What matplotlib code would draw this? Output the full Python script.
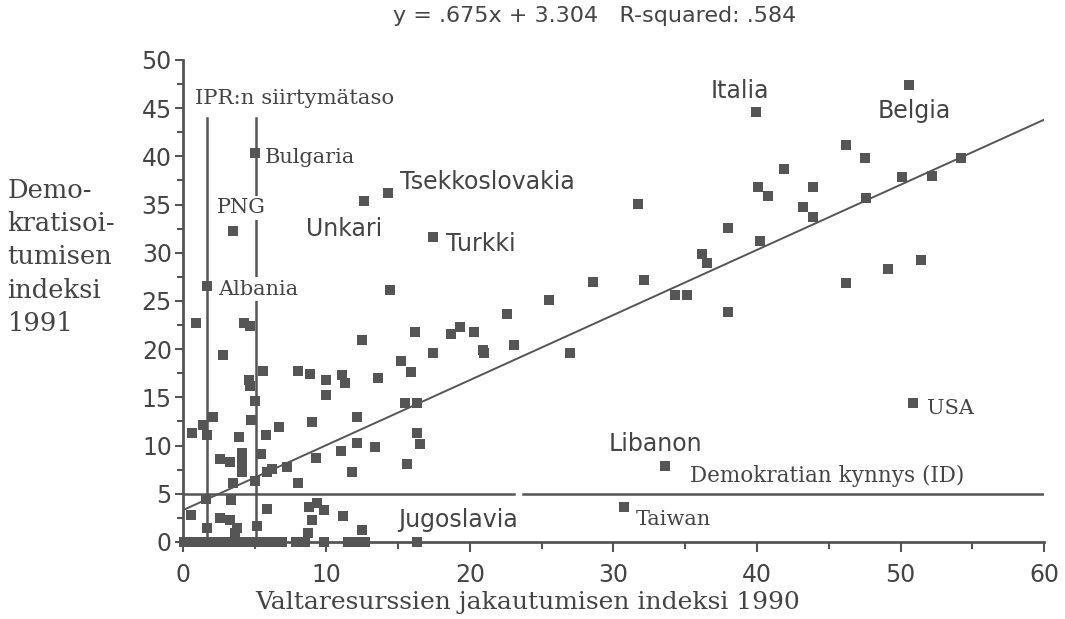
import matplotlib.pyplot as plt
from matplotlib.ticker import MultipleLocator

# labelled countries
countries = ["Italia", "Belgia", "Bulgaria", "PNG", "Albania", "Unkari",
             "Tsekkoslovakia", "Turkki", "USA", "Libanon", "Taiwan", "Jugoslavia"]
cx = [39.9, 50.6, 5.0, 3.5, 1.65, 12.6, 14.3, 17.4, 50.9, 33.6, 30.7, 16.3]
cy = [44.6, 47.4, 40.4, 32.3, 26.6, 35.4, 36.2, 31.6, 14.4, 7.9, 3.6, 0.0]

# other countries (IPR 1990, ID 1991)
other_x = [46.2, 47.5, 41.9, 40.1, 40.8, 43.9, 43.2, 43.9, 50.1, 52.2, 54.2, 47.6,
           31.7, 38.0, 40.2, 36.2, 36.5, 46.2, 49.1, 51.4, 28.6, 32.1, 25.5, 34.3,
           35.1, 38.0, 22.6, 23.1, 27.0,
           14.4, 16.2, 18.7, 19.3, 20.3, 20.9, 21.0, 17.4, 15.2, 15.9, 13.6, 15.5,
           16.3, 16.3, 16.5, 15.6, 13.4,
           0.9, 4.25, 4.67, 2.8, 12.5, 5.6, 8.0, 8.85, 10.0, 10.0, 11.1, 11.3,
           4.6, 4.67, 5.0, 4.74, 2.1, 1.4, 1.67, 0.63, 3.9, 5.78, 6.7, 9.0,
           12.1, 12.1, 2.6, 3.3, 4.1, 4.1, 4.1, 5.44, 3.5, 5.0, 5.85, 6.2,
           7.25, 9.27, 11.0, 11.8, 8.0, 3.35, 1.6, 0.56, 5.85, 8.8, 9.35, 9.8,
           9.0, 11.15, 2.6, 3.3, 3.76, 3.62, 1.67, 5.16, 12.5, 8.7]
other_y = [41.2, 39.8, 38.7, 36.8, 35.9, 36.8, 34.8, 33.7, 37.9, 38.0, 39.8, 35.7,
           35.1, 32.6, 31.2, 29.9, 28.9, 26.9, 28.3, 29.3, 27.0, 27.2, 25.1, 25.6,
           25.6, 23.9, 23.7, 20.4, 19.6,
           26.1, 21.8, 21.6, 22.3, 21.8, 19.9, 19.6, 19.6, 18.8, 17.6, 17.0, 14.4,
           14.4, 11.3, 10.2, 8.1, 9.9,
           22.7, 22.7, 22.4, 19.4, 21.0, 17.7, 17.7, 17.4, 16.8, 15.2, 17.3, 16.5,
           16.8, 16.2, 14.6, 12.7, 13.0, 12.1, 11.1, 11.3, 10.9, 11.1, 11.9, 12.4,
           13.0, 10.3, 8.6, 8.3, 9.2, 8.2, 7.25, 9.1, 6.1, 6.3, 7.25, 7.6,
           7.8, 8.7, 9.4, 7.25, 6.1, 4.35, 4.45, 2.8, 3.4, 3.6, 4.0, 3.3,
           2.3, 2.7, 2.5, 2.3, 1.45, 0.9, 1.45, 1.65, 1.25, 0.9]

# countries with index 0 in 1991
zero_x = [0.1, 0.5, 0.9, 1.3, 1.7, 2.1, 2.5, 2.9, 3.3, 3.7, 4.1, 4.5, 4.9, 5.3,
          5.7, 6.1, 6.5, 6.9, 7.9, 8.5, 9.8, 11.5, 12.0, 12.7]
zero_y = [0.0] * len(zero_x)

slope, intercept = 0.675, 3.304
r_squared = 0.584
threshold_id = 5.0
ipr_levels = [1.65, 5.1]
ipr_top = 44.0

GRAY = "#555555"
TEXT = "#444444"

fig = plt.figure(figsize=(10.65, 6.19), dpi=100)
ax = fig.add_axes([0.1718, 0.1244, 0.8085, 0.7787])

# regression line
ax.plot([0, 60], [intercept, intercept + slope * 60], color=GRAY, lw=1.4, zorder=2)

# democracy threshold (with small gap as in original)
ax.plot([0, 23.1], [threshold_id, threshold_id], color=GRAY, lw=1.8, zorder=2)
ax.plot([23.7, 60], [threshold_id, threshold_id], color=GRAY, lw=1.8, zorder=2)

# IPR transition level
for lv in ipr_levels:
    ax.plot([lv, lv], [0, ipr_top], color=GRAY, lw=1.8, zorder=2)

ms = 6.8
ax.plot(other_x, other_y, "s", color=GRAY, ms=ms, mew=0, zorder=4, clip_on=False)
ax.plot(zero_x, zero_y, "s", color=GRAY, ms=ms, mew=0, zorder=4, clip_on=False)
ax.plot(cx, cy, "s", color=GRAY, ms=ms, mew=0, zorder=4, clip_on=False)

# labels: (offset in points, ha, font family, white background)
label_style = {
    "Italia": ((-11, 15.5), "center", "sans", False),
    "Belgia": ((3.5, -19), "center", "sans", False),
    "Bulgaria": ((7, -3.5), "left", "serif", False),
    "PNG": ((5.5, 16.5), "center", "serif", True),
    "Albania": ((8.5, -2.5), "left", "serif", True),
    "Unkari": ((-14.5, -20.5), "center", "sans", False),
    "Tsekkoslovakia": ((8.5, 8), "left", "sans", False),
    "Turkki": ((9.5, -4.5), "left", "sans", False),
    "USA": ((10, -3.5), "left", "serif", False),
    "Libanon": ((-7, 16), "center", "sans", False),
    "Taiwan": ((8.5, -9), "left", "serif", False),
    "Jugoslavia": ((30, 16), "center", "sans", False),
}
for name, x, y in zip(countries, cx, cy):
    off, ha, fam, bg = label_style[name]
    if fam == "sans":
        kw = dict(family="DejaVu Sans", fontsize=17)
    else:
        kw = dict(family="DejaVu Serif", fontsize=15)
    if bg:
        kw["bbox"] = dict(boxstyle="square,pad=0.12", fc="white", ec="none")
    ax.annotate(name, (x, y), xytext=off, textcoords="offset points",
                ha=ha, va="center", color=TEXT, zorder=5, **kw)

ax.text(0.84, 46.0, "IPR:n siirtymätaso", family="DejaVu Serif", fontsize=15.3,
        color=TEXT, ha="left", va="center")
ax.text(35.3, 6.8, "Demokratian kynnys (ID)", family="DejaVu Serif", fontsize=15.5,
        color=TEXT, ha="left", va="center")

ax.set_xlim(0, 60)
ax.set_ylim(0, 50)
ax.xaxis.set_major_locator(MultipleLocator(10))
ax.xaxis.set_minor_locator(MultipleLocator(5))
ax.yaxis.set_major_locator(MultipleLocator(5))
ax.yaxis.set_minor_locator(MultipleLocator(2.5))
for s in ["top", "right"]:
    ax.spines[s].set_visible(False)
for s in ["left", "bottom"]:
    ax.spines[s].set_color(GRAY)
    ax.spines[s].set_linewidth(2)
ax.tick_params(axis="both", which="both", direction="out", color=GRAY,
               labelcolor=TEXT, labelsize=17, width=1.5)
ax.tick_params(axis="x", which="major", length=7, pad=8)
ax.tick_params(axis="x", which="minor", length=5)
ax.tick_params(axis="y", which="major", length=6, pad=2)
ax.tick_params(axis="y", which="minor", length=4)

title = f"y = {slope:.3f}x + {intercept:.3f}   R-squared: {r_squared:.3f}".replace("0.", ".")
fig.text(0.558, 0.974, title, family="DejaVu Sans", fontsize=16, color=TEXT,
         ha="center", va="center")
fig.text(0.495, 0.026, "Valtaresurssien jakautumisen indeksi 1990",
         family="DejaVu Serif", fontsize=18, color=TEXT, ha="center", va="center")
fig.text(0.007, 0.585, "Demo-\nkratisoi-\ntumisen\nindeksi\n1991",
         family="DejaVu Serif", fontsize=18.5, color=TEXT, ha="left", va="center",
         linespacing=1.42)

fig.savefig("out.png", dpi=100, facecolor="white")
